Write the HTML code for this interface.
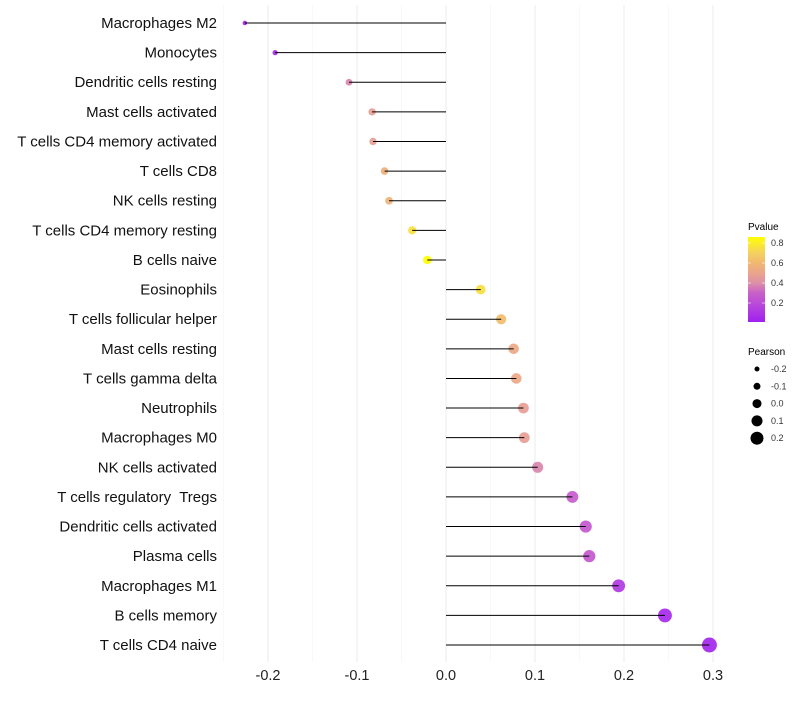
<!DOCTYPE html>
<html><head><meta charset="utf-8"><style>
body{margin:0;background:#fff;font-family:"Liberation Sans",sans-serif}
text{white-space:pre}
</style></head><body>
<svg id="chart" width="800" height="700" xmlns="http://www.w3.org/2000/svg">
<defs><linearGradient id="pg" x1="0" y1="1" x2="0" y2="0"></linearGradient></defs>
<g id="grid"></g><g id="marks"></g><g id="stems"></g><g id="labels"></g>
<g>
<text x="748" y="230" font-size="10">Pvalue</text>
<rect x="748" y="237" width="17" height="85" fill="url(#pg)"/>
<g id="cticks" font-size="9" fill="#333"></g>
</g>
<g id="sleg">
<text x="748" y="355" font-size="10">Pearson</text>
</g>
</svg>
<script>
const categories=["Macrophages M2","Monocytes","Dendritic cells resting","Mast cells activated","T cells CD4 memory activated","T cells CD8","NK cells resting","T cells CD4 memory resting","B cells naive","Eosinophils","T cells follicular helper","Mast cells resting","T cells gamma delta","Neutrophils","Macrophages M0","NK cells activated","T cells regulatory  Tregs","Dendritic cells activated","Plasma cells","Macrophages M1","B cells memory","T cells CD4 naive"];
const pearson=[-0.226,-0.192,-0.109,-0.083,-0.082,-0.069,-0.064,-0.038,-0.021,0.039,0.062,0.076,0.079,0.087,0.088,0.103,0.142,0.157,0.161,0.194,0.246,0.296];
const pvalue=[0.02,0.04,0.38,0.47,0.47,0.56,0.57,0.75,0.86,0.75,0.62,0.52,0.52,0.47,0.47,0.38,0.28,0.26,0.26,0.12,0.05,0.03];
const xTicks=[-0.2,-0.1,0.0,0.1,0.2,0.3];
const xTickLabels=["-0.2","-0.1","0.0","0.1","0.2","0.3"];
const pTicks=[0.2,0.4,0.6,0.8];
const sizeTicks=[-0.2,-0.1,0.0,0.1,0.2];
const NS="http://www.w3.org/2000/svg";
const X=v=>446+v*890;
const Y=i=>23+i*29.62;
const R=p=>4.5+10*p;
const cStops=[[0.01,[160,32,240]],[0.2,[187,76,216]],[0.3,[200,96,200]],[0.4,[220,144,168]],[0.5,[235,164,140]],[0.6,[240,184,112]],[0.7,[245,208,96]],[0.86,[255,255,0]]];
function col(p){p=Math.max(0.01,Math.min(0.86,p));
 for(let k=1;k<cStops.length;k++){if(p<=cStops[k][0]){const [p0,a]=cStops[k-1],[p1,b]=cStops[k];const u=(p-p0)/(p1-p0);
  return `rgb(${a.map((x,j)=>Math.round(x+(b[j]-x)*u)).join(",")})`;}}
 return 'rgb(255,255,0)';}
function mk(tag,at,parent){const e=document.createElementNS(NS,tag);for(const k in at)e.setAttribute(k,at[k]);parent.appendChild(e);return e;}
const pg=document.getElementById('pg');
cStops.forEach(s=>mk('stop',{offset:(s[0]-0.01)/0.85,'stop-color':`rgb(${s[1].join(",")})`},pg));
const grid=document.getElementById('grid'),marks=document.getElementById('marks'),stems=document.getElementById('stems'),labels=document.getElementById('labels');
for(let v=-0.25;v<=0.301;v+=0.05){const minor=Math.abs(Math.round(v*20))%2;
 const g=mk('line',{x1:X(v),x2:X(v),y1:5,y2:662,stroke:minor?'#f3f3f3':'#ebebeb','stroke-width':minor?0.6:1},grid);
 
 }
xTicks.forEach((v,i)=>{const t=mk('text',{x:X(v),y:680,'font-size':14.5,'text-anchor':'middle',fill:'#222'},labels);t.textContent=xTickLabels[i];
 
 });
categories.forEach((c,i)=>{const y=Y(i);
 const t=mk('text',{x:217,y:y+5,'font-size':15,'text-anchor':'end',fill:'#111'},labels);t.textContent=c;
 
 
 const d=mk('circle',{cx:X(pearson[i]),cy:y,r:R(pearson[i]),fill:col(pvalue[i]),'fill-opacity':0.92},marks);
 
 
 const l=mk('line',{x1:X(0),x2:X(pearson[i]),y1:y,y2:y,stroke:'#000','stroke-width':1},stems);
 
 
});
const ct=document.getElementById('cticks');
pTicks.forEach(p=>{const y=322-(p-0.01)/0.85*85;
 mk('line',{x1:748,x2:751,y1:y,y2:y,stroke:'#fff','stroke-opacity':0.6},ct);mk('line',{x1:762,x2:765,y1:y,y2:y,stroke:'#fff','stroke-opacity':0.6},ct);
 const t=mk('text',{x:771,y:y+3},ct);t.textContent=p.toFixed(1);
 
 });
const sl=document.getElementById('sleg');
sizeTicks.forEach((s,i)=>{const y=369+i*17.3;
 const c=mk('circle',{cx:757,cy:y,r:R(s),fill:'#000'},sl);
 
 
 const t=mk('text',{x:771,y:y+3,'font-size':9,fill:'#333'},sl);t.textContent=s.toFixed(1);
 
 });
</script>
</body></html>
